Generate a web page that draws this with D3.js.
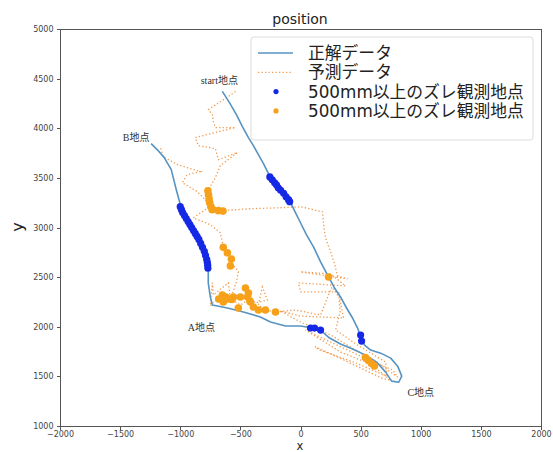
<!DOCTYPE html>
<html lang="ja">
<head>
<meta charset="utf-8">
<title>position</title>
<script src="https://cdn.jsdelivr.net/npm/d3@7"></script>
<style>
  body { margin: 0; background: #fff; font-family: "DejaVu Sans", "Noto Sans CJK JP", sans-serif; }
  .axis path, .axis line { stroke: #555; shape-rendering: crispEdges; }
  .axis text { fill: #444; font-size: 8px; font-family: "DejaVu Sans", sans-serif; }
  .note { font-family: "Liberation Serif", "Noto Sans CJK JP", serif; font-size: 10px; fill: #333; }
</style>
</head>
<body>
<script>
var w = 553, h = 452;

// true path (正解データ), x / y in mm
var trueX = [-650, -592, -533, -483, -433, -392, -350, -308, -250, -167, -83, -42, 0, 50, 108, 167, 233, 283, 333, 383, 433, 475, 500, 533, 583, 667, 750, 808, 842, 817, 758,
  708, 633, 542, 433, 333, 242, 183, 100, 0, -125, -250, -333, -475, -608, -733,
  -750, -767, -767, -775, -825, -883, -942, -992, -1033, -1075, -1133, -1192, -1242];
var trueY = [4371, 4260, 4138, 4017, 3906, 3825, 3734, 3643, 3502, 3381, 3250, 3149, 3048, 2926, 2805, 2654, 2502, 2391, 2300, 2189, 2088, 1987, 1896, 1815, 1765, 1734, 1684, 1603, 1502, 1441, 1452,
  1543, 1644, 1714, 1775, 1826, 1886, 1947, 1987, 2007, 2007, 2048, 2098, 2149, 2189, 2219,
  2300, 2441, 2553, 2674, 2825, 2957, 3088, 3199, 3381, 3583, 3704, 3785, 3845];

// predicted path (予測データ)
var predX = [-540, -625, -765, -733, -725, -708, -542, -708, -875, -850, -708, -683, -525, -667, -708, -758, -742, -725, -667, -417, -167, 0, 183, 192, 208, 250, 283, 308, 392,
  0, 250, 375, -17, 0, 317, 340, 358, 0, -167, 0, 250, 458, 667, 808, 767, 500, 250, 42, 333, 583, 750,
  680, 300, 120, 150, 450, 720, 708, 475, 292, 330, 320, 260, 167,
  -42, -208, -292, -350, -317, -275, -375, -458, -433, -500, -567, -642, -733, -750, -733, -725, -600, -583, -533, -517, -575, -592, -642,
  -667, -750, -892, -767, -792, -858, -983, -942, -833, -1025, -1142, -1167];
var predY = [4370, 4300, 4189, 4138, 4068, 4007, 4007, 3957, 3906, 3825, 3795, 3684, 3755, 3623, 3502, 3401, 3300, 3219, 3169, 3189, 3199, 3209, 3159, 3028, 2896, 2755, 2634, 2512, 2482,
  2553, 2533, 2411, 2442, 2351, 2351, 2200, 2088, 2108, 2159, 2048, 1917, 1765, 1614, 1492, 1563, 1704, 1846, 1967, 1745, 1624, 1462,
  1480, 1700, 1800, 1770, 1640, 1500, 1644, 1816, 1967, 2150, 2300, 2400, 2118,
  2169, 2149, 2169, 2220, 2401, 2270, 2240, 2361, 2270, 2220, 2270, 2290, 2240, 2210, 2442, 2320, 2442, 2270, 2452, 2553, 2644, 2745, 2805,
  2947, 3028, 3098, 3199, 3280, 3361, 3452, 3533, 3563, 3634, 3714, 3815];

// points on the true path with >= 500mm error
var blueX = [-770, -772, -775, -780, -790, -800, -815, -830, -845, -860, -875, -890, -905, -920, -935, -950, -965, -980, -990, -1000,
  -255, -235, -215, -200, -185, -165, -140, -120, -100, -90, 83, 117, 167, 500, 508];
var blueY = [2590, 2620, 2650, 2680, 2720, 2760, 2800, 2840, 2880, 2910, 2940, 2970, 3000, 3030, 3060, 3090, 3120, 3150, 3180, 3210,
  3510, 3480, 3450, 3430, 3400, 3375, 3345, 3310, 3280, 3260, 1987, 1987, 1967, 1917, 1856];

// points on the predicted path with >= 500mm error
var orangeX = [-770, -765, -760, -755, -745, -735, -683, -645, -642, -608, -575, -583,
  -650, -620, -600, -570, -680, -642, -558, -458, -433, -440, -420, -417, -392, -350, -292, -208, -517, -500,
  233, 540, 565, 590, 615];
var orangeY = [3370, 3330, 3290, 3250, 3210, 3180, 3170, 3165, 2800, 2745, 2683, 2613,
  2320, 2300, 2280, 2275, 2280, 2250, 2300, 2390, 2340, 2300, 2260, 2250, 2199, 2169, 2169, 2149, 2189, 2300,
  2502, 1690, 1660, 1630, 1605];

var xTicks = d3.range(-2000, 2001, 500);
var yTicks = d3.range(1000, 5001, 500);

var notes = [
  {text: "start地点", x: -675, y: 4450},
  {text: "B地点", x: -1367, y: 3875},
  {text: "A地点", x: -825, y: 1955},
  {text: "C地点", x: 1000, y: 1300}
];

var legendItems = ["正解データ", "予測データ", "500mm以上のズレ観測地点", "500mm以上のズレ観測地点"];

var lineColor = "#5793c2", predColor = "#f29a4e", blueDot = "#1428e6", orangeDot = "#f7a11a";

var x = d3.scaleLinear().domain([-2000, 2000]).range([60, 541]);
var y = d3.scaleLinear().domain([1000, 5000]).range([426, 29]);

var svg = d3.select("body").append("svg")
  .attr("width", w)
  .attr("height", h);

// axes
svg.append("g")
  .attr("class", "axis")
  .attr("transform", "translate(0," + y(1000) + ")")
  .call(d3.axisBottom(x).tickValues(xTicks).tickSize(3.5).tickPadding(2).tickFormat(d3.format("d")))
  .call(function(g) { g.select(".domain").remove(); });

svg.append("g")
  .attr("class", "axis")
  .attr("transform", "translate(" + x(-2000) + ",0)")
  .call(d3.axisLeft(y).tickValues(yTicks).tickSize(3.5).tickPadding(3).tickFormat(d3.format("d")))
  .call(function(g) { g.select(".domain").remove(); });

// data
var line = d3.line().x(function(d) { return x(d[0]); }).y(function(d) { return y(d[1]); });

svg.append("path")
  .attr("d", line(d3.zip(predX, predY)))
  .attr("fill", "none")
  .attr("stroke", predColor)
  .attr("stroke-width", 1.3)
  .attr("stroke-dasharray", "1.3,2.2");

svg.append("path")
  .attr("d", line(d3.zip(trueX, trueY)))
  .attr("fill", "none")
  .attr("stroke", lineColor)
  .attr("stroke-width", 1.6)
  .attr("stroke-linejoin", "round");

svg.selectAll("circle.blue")
  .data(d3.zip(blueX, blueY))
  .enter().append("circle")
  .attr("class", "blue")
  .attr("cx", function(d) { return x(d[0]); })
  .attr("cy", function(d) { return y(d[1]); })
  .attr("r", 3.6)
  .attr("fill", blueDot);

svg.selectAll("circle.orange")
  .data(d3.zip(orangeX, orangeY))
  .enter().append("circle")
  .attr("class", "orange")
  .attr("cx", function(d) { return x(d[0]); })
  .attr("cy", function(d) { return y(d[1]); })
  .attr("r", 3.8)
  .attr("fill", orangeDot);

// frame
svg.append("rect")
  .attr("x", x(-2000))
  .attr("y", y(5000))
  .attr("width", x(2000) - x(-2000))
  .attr("height", y(1000) - y(5000))
  .attr("fill", "none")
  .attr("stroke", "#555")
  .attr("stroke-width", 1)
  .attr("shape-rendering", "crispEdges");

// annotations
svg.selectAll("text.note")
  .data(notes)
  .enter().append("text")
  .attr("class", "note")
  .attr("x", function(d) { return x(d.x); })
  .attr("y", function(d) { return y(d.y); })
  .attr("text-anchor", "middle")
  .text(function(d) { return d.text; });

// titles
svg.append("text")
  .attr("x", 300).attr("y", 24)
  .attr("text-anchor", "middle")
  .attr("font-size", "14px")
  .attr("fill", "#222")
  .text("position");

svg.append("text")
  .attr("transform", "translate(23,227) rotate(-90)")
  .attr("text-anchor", "middle")
  .attr("font-size", "16px")
  .attr("fill", "#222")
  .text("y");

svg.append("text")
  .attr("x", 300).attr("y", 450)
  .attr("text-anchor", "middle")
  .attr("font-size", "11.5px")
  .attr("fill", "#222")
  .text("x");

// legend
var legend = svg.append("g").attr("transform", "translate(251,37)");

legend.append("rect")
  .attr("width", 282)
  .attr("height", 103)
  .attr("rx", 3)
  .attr("fill", "#fff")
  .attr("fill-opacity", 0.85)
  .attr("stroke", "#ddd");

var item = legend.selectAll("g.item")
  .data(legendItems)
  .enter().append("g")
  .attr("transform", function(d, i) { return "translate(0," + (16 + i * 19.3) + ")"; });

item.append("text")
  .attr("x", 57)
  .attr("y", 6)
  .attr("font-size", "16.8px")
  .attr("fill", "#222")
  .text(function(d) { return d; });

legend.append("line")
  .attr("x1", 7).attr("x2", 42).attr("y1", 16).attr("y2", 16)
  .attr("stroke", lineColor).attr("stroke-width", 1.6);

legend.append("line")
  .attr("x1", 7).attr("x2", 42).attr("y1", 35.3).attr("y2", 35.3)
  .attr("stroke", predColor).attr("stroke-width", 1.3).attr("stroke-dasharray", "1.3,2.2");

legend.append("circle")
  .attr("cx", 25).attr("cy", 54.6).attr("r", 2.6).attr("fill", blueDot);

legend.append("circle")
  .attr("cx", 25).attr("cy", 73.9).attr("r", 2.6).attr("fill", orangeDot);
</script>
</body>
</html>
